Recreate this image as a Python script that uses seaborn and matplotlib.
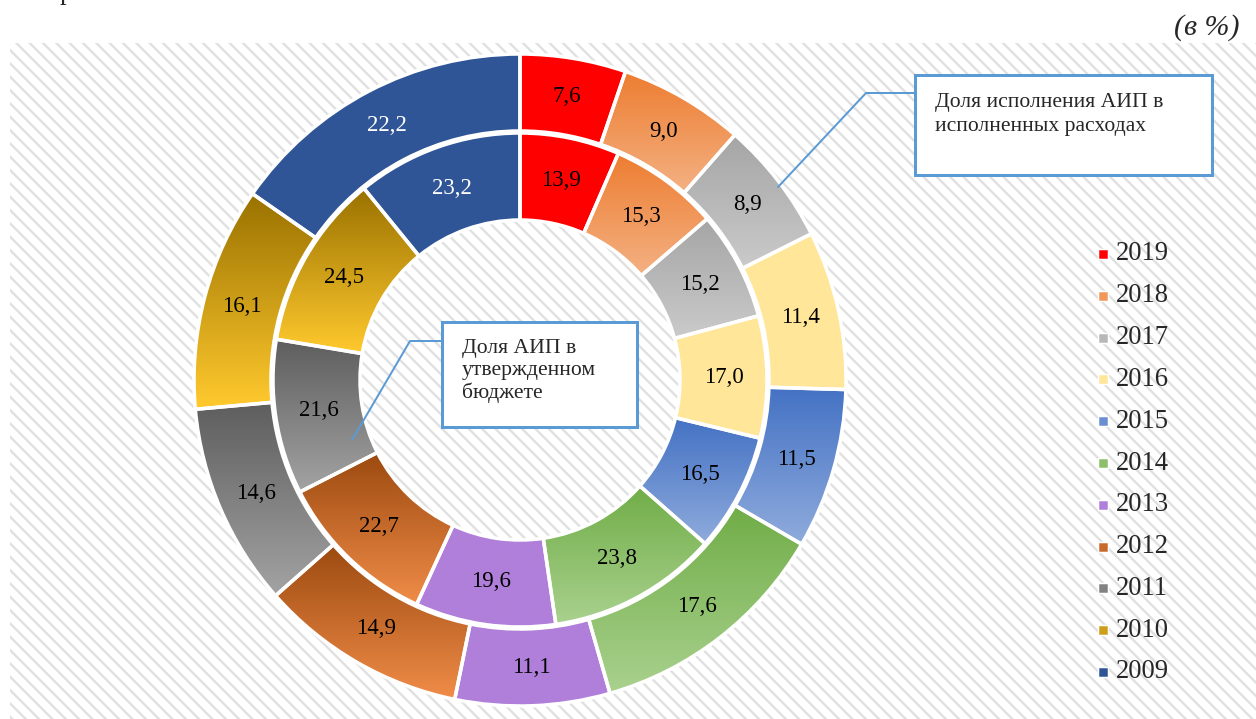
import numpy as np
import seaborn as sns
import matplotlib.pyplot as plt
from matplotlib.patches import Rectangle
from matplotlib.colors import to_rgb

# данные: доля АИП (в %)
years = ['2019', '2018', '2017', '2016', '2015', '2014',
         '2013', '2012', '2011', '2010', '2009']
outer_vals = [7.6, 9.0, 8.9, 11.4, 11.5, 17.6, 11.1, 14.9, 14.6, 16.1, 22.2]   # исполненные расходы
inner_vals = [13.9, 15.3, 15.2, 17.0, 16.5, 23.8, 19.6, 22.7, 21.6, 24.5, 23.2]  # утвержденный бюджет
top_colors = ['#ff0000', '#ed7d31', '#a5a5a5', '#ffe699', '#4472c4', '#70ad47',
              '#b07fda', '#9c4a10', '#5e5e5e', '#9a7200', '#2f5597']
bot_colors = ['#ff0000', '#f4b183', '#cacaca', '#ffe699', '#8fabdc', '#a9d18e',
              '#b07fda', '#f08c48', '#a3a3a3', '#ffc92e', '#2f5597']
label_colors = ['black'] * 10 + ['white']

box1_lines = ['Доля исполнения АИП в', 'исполненных расходах']
box2_lines = ['Доля АИП в', 'утвержденном', 'бюджете']

sns.set_theme(style='white')
plt.rcParams['font.family'] = ['Liberation Serif', 'DejaVu Serif']
plt.rcParams['hatch.linewidth'] = 1.4

W, H, DPI = 1256, 719, 120
px = 72 / DPI  # пунктов на пиксель
fig = plt.figure(figsize=(W / DPI, H / DPI), dpi=DPI)
ax = fig.add_axes([0, 0, 1, 1])


def Y(y):
    return H - y


cx, cy = 520, Y(380)

# фон со штриховкой
ax.add_patch(Rectangle((10, 0), W - 10, H - 43, facecolor='white', edgecolor='#e0e0e0',
                       hatch='\\\\\\', linewidth=0, zorder=0))


def ring(values, radius, width):
    wedges, _ = ax.pie(values, radius=radius, center=(cx, cy), startangle=90,
                       counterclock=False, colors=top_colors, frame=True,
                       wedgeprops=dict(width=width, linewidth=0, zorder=1))
    for w, top, bot in zip(wedges, top_colors, bot_colors):
        ext = w.get_path().get_extents()
        grad = np.linspace(to_rgb(bot), to_rgb(top), 64)[:, None, :]
        im = ax.imshow(grad, extent=[ext.x0, ext.x1, ext.y0, ext.y1], origin='lower',
                       aspect='auto', zorder=2, interpolation='bilinear')
        im.set_clip_path(w)
    ax.pie(values, radius=radius, center=(cx, cy), startangle=90,
           counterclock=False, frame=True,
           wedgeprops=dict(width=width, fill=False, edgecolor='white',
                           linewidth=3.5 * px, zorder=3))
    r_mid = radius - width / 2
    for w, v, c in zip(wedges, values, label_colors):
        th = np.deg2rad((w.theta1 + w.theta2) / 2)
        ax.text(cx + r_mid * np.cos(th), cy + r_mid * np.sin(th),
                f'{v:.1f}'.replace('.', ','), color=c, fontsize=13.7,
                ha='center', va='center', zorder=4)


ring(outer_vals, 326, 77)
ring(inner_vals, 247, 87)

# выноски
blue = '#5b9bd5'
ax.plot([778, 866, 915], [Y(187), Y(93), Y(93)], color=blue, lw=2 * px, zorder=5)
ax.add_patch(Rectangle((915, Y(175)), 297, 100, facecolor='white', edgecolor=blue,
                       lw=3 * px, zorder=6))
for i, t in enumerate(box1_lines):
    ax.text(935, Y(107 + i * 24), t, fontsize=13, ha='left', va='baseline', zorder=7)

ax.plot([352, 410, 442], [Y(440), Y(341), Y(341)], color=blue, lw=2 * px, zorder=5)
ax.add_patch(Rectangle((442, Y(427)), 195, 105, facecolor='white', edgecolor=blue,
                       lw=3 * px, zorder=6))
for i, t in enumerate(box2_lines):
    ax.text(462, Y(353 + i * 22.5), t, fontsize=13, ha='left', va='baseline', zorder=7)

# легенда
for i, (yr, top, bot) in enumerate(zip(years, top_colors, bot_colors)):
    yc = 254 + i * 41.8
    mid = (np.array(to_rgb(top)) + np.array(to_rgb(bot))) / 2
    ax.add_patch(Rectangle((1098, Y(yc) - 5), 10, 10, facecolor=mid,
                           edgecolor='white', lw=1.5 * px, zorder=5))
    ax.text(1116, Y(yc), yr, fontsize=16, ha='left', va='center', zorder=5)

ax.text(1240, Y(28), '(в %)', fontsize=18, style='italic', ha='right',
        va='center', zorder=5)
# обрывок строки над диаграммой
ax.text(60, Y(-1), 'р', fontsize=16, ha='left', va='baseline', clip_on=False)

ax.set_xlim(0, W)
ax.set_ylim(0, H)
ax.set_aspect('auto')
ax.axis('off')
fig.savefig('out.png', dpi=DPI)
